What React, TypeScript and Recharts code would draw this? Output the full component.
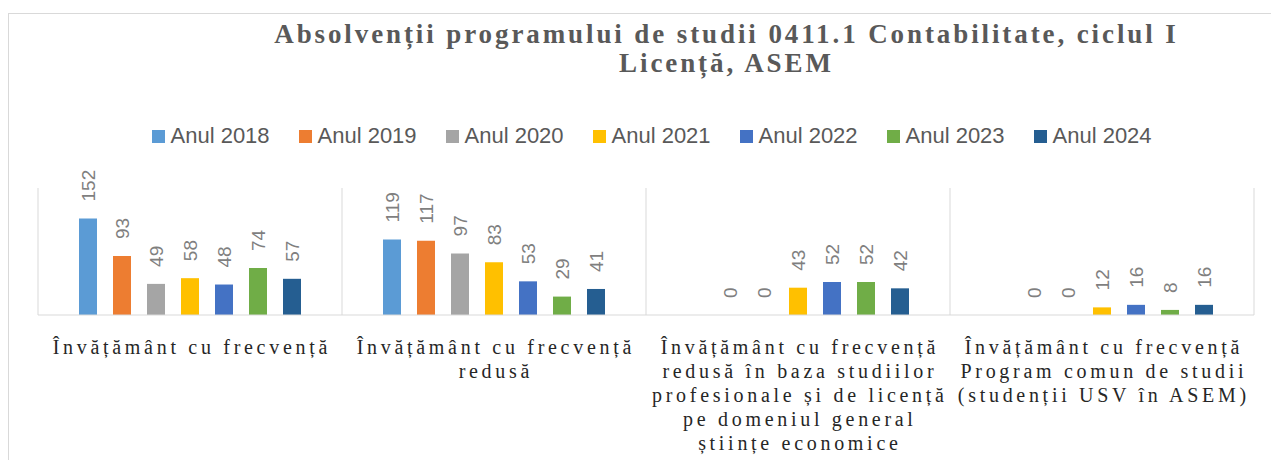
import React from "react";
import {
  BarChart,
  Bar,
  XAxis,
  YAxis,
  CartesianGrid,
  Legend,
  LabelList,
} from "recharts";

// ---- data ----
const titleLines = [
  "Absolvenții programului de studii 0411.1 Contabilitate, ciclul I",
  "Licență, ASEM",
];

const categoryLines: string[][] = [
  ["Învățământ cu frecvență"],
  ["Învățământ cu frecvență", "redusă"],
  [
    "Învățământ cu frecvență",
    "redusă în baza studiilor",
    "profesionale și de licență",
    "pe domeniul general",
    "științe economice",
  ],
  ["Învățământ cu frecvență", "Program comun de studii", "(studenții USV în ASEM)"],
];
const categories = categoryLines.map((l) => l.join(" "));

const seriesNames = [
  "Anul 2018",
  "Anul 2019",
  "Anul 2020",
  "Anul 2021",
  "Anul 2022",
  "Anul 2023",
  "Anul 2024",
];
const seriesColors = [
  "#5B9BD5",
  "#ED7D31",
  "#A5A5A5",
  "#FFC000",
  "#4472C4",
  "#70AD47",
  "#255E91",
];

const y2018: (number | null)[] = [152, 119, null, null];
const y2019: (number | null)[] = [93, 117, 0, 0];
const y2020: (number | null)[] = [49, 97, 0, 0];
const y2021: (number | null)[] = [58, 83, 43, 12];
const y2022: (number | null)[] = [48, 53, 52, 16];
const y2023: (number | null)[] = [74, 29, 52, 8];
const y2024: (number | null)[] = [57, 41, 42, 16];

const seriesValues = [y2018, y2019, y2020, y2021, y2022, y2023, y2024];

const data = categories.map((c, i) => {
  const row: Record<string, any> = { category: c };
  seriesNames.forEach((s, k) => {
    row[s] = seriesValues[k][i];
  });
  return row;
});

// ---- styles ----
const SERIF = "'Liberation Serif', 'Times New Roman', serif";
const SANS = "'Liberation Sans', Arial, sans-serif";
const W = 1263;
const H = 452;

const CategoryTick = (props: any) => {
  const { x, y, payload } = props;
  const idx = categories.indexOf(payload.value);
  const lines = idx >= 0 ? categoryLines[idx] : [String(payload.value)];
  const ls = 3.7;
  return (
    <text
      x={x + ls / 2}
      y={y}
      textAnchor="middle"
      fontFamily={SERIF}
      fontSize={20}
      fill="#262626"
      style={{ letterSpacing: `${ls}px` }}
    >
      {lines.map((ln, i) => (
        <tspan key={i} x={x + ls / 2} y={y + 31 + i * 24}>
          {ln}
        </tspan>
      ))}
    </text>
  );
};

const ValueLabel = (props: any) => {
  const { x, y, width, value } = props;
  if (value === null || value === undefined) return null;
  const cx = Number(x) + Number(width) / 2 + 1;
  const cy = Number(y) - 17;
  return (
    <text
      x={cx}
      y={cy}
      transform={`rotate(-90, ${cx}, ${cy})`}
      textAnchor="start"
      dominantBaseline="central"
      fontFamily={SANS}
      fontSize={19}
      fill="#7F7F7F"
    >
      {value}
    </text>
  );
};

const LegendContent = (props: any) => {
  const { payload } = props;
  return (
    <div style={{ display: "flex", alignItems: "center", height: 30 }}>
      {(payload || []).map((p: any, i: number) => (
        <div
          key={i}
          style={{
            display: "flex",
            alignItems: "center",
            width: i < payload.length - 1 ? 147 : undefined,
            flex: "none",
          }}
        >
          <div
            style={{
              width: 13,
              height: 13,
              background: p.color,
              marginRight: 5.5,
              flex: "none",
            }}
          />
          <span
            style={{
              fontFamily: SANS,
              fontSize: 22,
              color: "#595959",
              whiteSpace: "nowrap",
              lineHeight: "30px",
            }}
          >
            {p.value}
          </span>
        </div>
      ))}
    </div>
  );
};

export default function App() {
  return (
    <div
      style={{
        position: "absolute",
        left: 8,
        top: 8,
        width: W,
        height: H,
        overflow: "hidden",
        background: "#fff",
      }}
    >
      <div
        style={{
          position: "absolute",
          left: 0,
          top: 5,
          width: 2000,
          height: 2000,
          border: "1px solid #D9D9D9",
          boxSizing: "border-box",
        }}
      />
      <svg
        width={W}
        height={100}
        style={{ position: "absolute", left: 0, top: 0 }}
      >
        {titleLines.map((t, i) => (
          <text
            key={i}
            x={717 + 1.45}
            y={35 + i * 29}
            textAnchor="middle"
            fontFamily={SERIF}
            fontWeight="bold"
            fontSize={27}
            fill="#595959"
            style={{ letterSpacing: "2.9px" }}
          >
            {t}
          </text>
        ))}
      </svg>
      <div style={{ position: "absolute", left: 0, top: 0 }}>
        <BarChart
          width={W}
          height={H}
          data={data}
          margin={{ top: 150, right: 17, bottom: 15, left: 30 }}
          barSize={18}
          barGap={16}
        >
          <CartesianGrid
            horizontal={false}
            vertical={true}
            stroke="#D9D9D9"
            verticalCoordinatesGenerator={({ offset }: any) =>
              [0, 1, 2, 3, 4].map(
                (i) => offset.left + (offset.width * i) / categories.length
              )
            }
          />
          <XAxis
            dataKey="category"
            interval={0}
            tickLine={false}
            axisLine={{ stroke: "#D9D9D9" }}
            height={130}
            tick={<CategoryTick />}
          />
          <YAxis hide domain={[0, 200]} />
          <Legend
            verticalAlign="top"
            content={<LegendContent />}
            wrapperStyle={{ left: 144, top: 113, width: 1010, height: 30 }}
          />
          {seriesNames.map((s, k) => (
            <Bar
              key={s}
              dataKey={s}
              fill={seriesColors[k]}
              isAnimationActive={false}
              minPointSize={(v: any) => (v === 0 ? 0.01 : 0)}
            >
              <LabelList dataKey={s} content={<ValueLabel />} />
            </Bar>
          ))}
        </BarChart>
      </div>
    </div>
  );
}
